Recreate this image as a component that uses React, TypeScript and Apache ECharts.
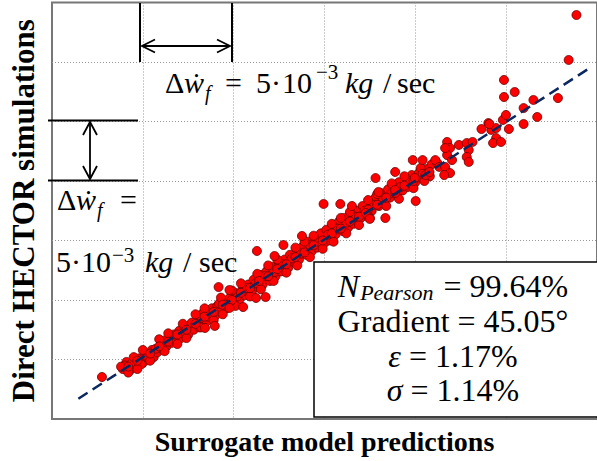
import React, { useEffect, useRef } from "react";
import * as echarts from "echarts";

// Axis ticks (units of 10^-3 kg/sec; one grid step = 5·10^-3 kg/sec)
const xTicks = [0, 5, 10, 15, 20, 25, 30];
const yTicks = [0, 5, 10, 15, 20, 25, 30, 35];

// Dense band of samples along the diagonal [surrogate, HECTOR]
const bandPoints: number[][] = [
  [3.9, 4.2], [4.1, 4.8], [4.3, 4.1], [4.6, 4.5], [4.8, 5.1], [5.0, 4.7], [5.1, 5.5], [5.3, 5.0],
  [5.5, 5.8], [5.6, 5.2], [5.8, 5.6], [6.0, 6.3], [6.1, 5.8], [6.3, 6.1], [6.5, 6.9], [6.6, 6.4],
  [6.8, 6.6], [7.0, 7.4], [7.1, 6.8], [7.3, 7.6], [7.5, 7.1], [7.6, 7.9], [7.8, 7.5], [8.0, 8.3],
  [8.1, 7.7], [8.3, 8.9], [8.5, 8.2], [8.6, 8.6], [8.8, 9.3], [9.0, 8.7], [9.1, 9.5], [9.3, 9.0],
  [9.5, 9.9], [9.6, 9.3], [9.8, 10.2], [10.0, 9.6], [10.1, 10.6], [10.3, 10.0], [10.5, 11.0], [10.6, 10.4],
  [10.8, 11.3], [11.0, 10.7], [11.1, 11.7], [11.3, 11.1], [11.5, 12.1], [11.6, 11.3], [11.8, 12.4], [12.0, 11.6],
  [12.1, 12.8], [12.3, 12.0], [12.5, 13.1], [12.6, 12.4], [12.8, 13.4], [13.0, 12.7], [13.1, 13.8], [13.3, 13.2],
  [13.5, 14.2], [13.6, 13.4], [13.8, 14.5], [14.0, 13.8], [14.1, 14.9], [14.3, 14.1], [14.5, 15.2], [14.6, 14.4],
  [14.8, 15.6], [15.0, 14.8], [15.1, 15.9], [15.3, 15.0], [15.5, 16.3], [15.6, 15.5], [15.8, 16.6], [16.0, 15.8],
  [16.1, 16.9], [16.3, 16.1], [16.5, 17.3], [16.6, 16.4], [16.8, 17.5], [17.0, 16.9], [17.1, 17.9], [17.3, 17.2],
  [17.5, 18.3], [17.6, 17.5], [17.8, 18.6], [18.0, 17.9], [18.1, 19.0], [18.3, 18.2], [18.5, 19.3], [18.6, 18.6],
  [18.8, 19.6], [19.0, 19.0], [19.1, 19.9], [19.3, 19.2], [19.5, 20.2], [19.6, 19.5], [19.8, 20.5], [20.0, 19.9],
  [20.2, 20.7], [20.4, 20.2], [20.6, 21.0], [20.8, 20.4],
  [4.0, 4.5], [4.4, 4.7], [4.9, 4.6], [5.2, 5.3], [5.7, 5.9], [6.2, 6.6], [6.7, 7.1], [7.2, 7.2],
  [7.7, 8.1], [8.2, 8.5], [8.7, 8.9], [9.2, 9.7], [9.7, 9.6], [10.2, 10.3], [10.7, 11.0], [11.2, 11.4],
  [11.7, 12.0], [12.2, 12.3], [12.7, 13.0], [13.2, 13.5], [13.7, 13.9], [14.2, 14.6], [14.7, 14.9], [15.2, 15.5],
  [15.7, 16.0], [16.2, 16.5], [16.7, 17.0], [17.2, 17.5], [17.7, 18.0], [18.2, 18.6], [18.7, 19.0], [19.2, 19.5],
  [19.7, 20.0],
  [3.8, 4.4], [4.2, 3.9], [4.5, 5.2], [4.7, 4.2], [5.0, 5.8], [5.4, 4.9], [5.9, 6.7], [6.2, 5.7],
  [6.4, 7.2], [6.9, 6.3], [7.2, 8.0], [7.4, 6.8], [7.9, 8.8], [8.2, 7.7], [8.4, 9.3], [8.9, 8.3],
  [9.3, 10.2], [9.4, 8.8], [9.9, 10.8], [10.1, 9.5], [10.4, 11.4], [10.9, 10.3], [11.3, 12.2], [11.5, 10.9],
  [11.9, 12.9], [12.2, 11.6], [12.4, 13.4], [12.9, 12.3], [13.4, 14.4], [13.5, 12.9], [13.9, 14.9], [14.2, 13.6],
  [14.4, 15.4], [14.9, 14.3], [15.4, 16.4], [15.5, 14.9], [15.9, 16.9], [16.2, 15.6], [16.4, 17.4], [16.9, 16.3],
  [17.4, 18.4], [17.5, 16.9], [17.9, 18.9], [18.4, 17.9], [18.7, 19.8], [19.1, 18.5], [19.4, 20.4], [19.9, 19.4],
  [20.3, 21.1], [20.5, 20.0], [20.9, 21.4],
  [4.2, 4.4], [4.7, 4.9], [5.4, 5.5], [5.9, 6.1], [6.4, 6.5], [6.9, 7.1], [7.4, 7.5], [7.9, 8.0],
  [8.4, 8.6], [8.9, 9.0], [9.4, 9.6], [9.9, 10.0], [10.4, 10.6], [10.9, 11.0], [11.4, 11.6], [11.9, 12.0],
  [12.4, 12.6], [12.9, 13.0], [13.4, 13.6], [13.9, 14.0], [14.4, 14.6], [14.9, 15.0], [15.4, 15.6], [15.9, 16.0],
  [16.4, 16.6], [16.9, 17.0], [17.4, 17.6], [17.9, 18.0], [18.4, 18.6], [18.9, 19.0], [19.4, 19.6], [19.9, 20.0],
  [20.4, 20.6],
];

// Clusters and scattered samples away from the dense band
const scatteredPoints: number[][] = [
  [2.75, 3.53], [8.42, 7.65], [8.96, 7.82], [9.17, 11.09], [9.77, 10.84], [9.77, 9.33], [10.52, 9.41],
  [11.23, 10.17], [11.76, 10.25], [11.28, 14.12], [12.25, 13.7], [12.74, 14.62], [13.76, 15.38],
  [14.95, 18.07], [15.87, 18.07], [16.51, 17.9], [17.27, 17.31], [17.49, 16.81], [18.35, 16.89],
  [17.81, 20.25], [17.97, 19.08], [18.89, 19.24], [18.89, 20.76], [19.97, 20.25], [20.56, 20.5],
  [19.86, 21.76], [20.4, 21.76], [20.02, 18.32], [21.21, 21.51],
  [21.1, 21.76], [21.32, 21.18], [20.78, 20.76], [21.64, 21.18], [21.91, 20.67], [21.59, 20.5],
  [21.75, 23.28], [21.91, 22.77], [22.4, 23.03], [22.83, 23.19], [23.15, 23.28], [22.94, 22.6],
  [22.83, 22.02], [22.94, 21.6], [21.75, 22.18], [21.64, 22.77], [22.02, 21.76],
  [23.64, 24.37], [24.02, 24.87], [24.18, 24.29], [24.45, 23.61], [24.28, 23.19], [24.72, 23.28], [24.45, 24.45],
  [24.07, 24.79], [25.15, 24.37], [24.82, 25.13], [24.99, 25.55], [25.96, 24.79], [26.71, 25.38],
  [25.96, 26.13], [26.5, 26.81], [27.85, 26.97], [24.88, 27.06], [25.47, 27.48], [24.88, 28.49],
  [28.44, 30.17], [28.87, 33.95],
];

// Regression line end points
const fitLine: number[][] = [[1.45, 1.7], [29.5, 29.4]];

const xAxisTitle = "Surrogate model predictions";
const yAxisTitle = "Direct HECTOR simulations";
const statGradient = "Gradient = 45.05°";

const SERIF = "Liberation Serif";

type Piece = [string, number, number, number, boolean];
// [text, x, baseline, fontSize, italic]
const topLabel: Piece[] = [
  ["Δ", 165, 93, 30, false],
  ["ẇ", 184, 93, 30, true],
  ["f", 205, 100, 20, true],
  ["=", 225, 93, 30, false],
  ["5", 256, 93, 30, false],
  ["·", 271, 93, 30, false],
  ["10", 282, 93, 30, false],
  ["−3", 316, 79, 21, false],
  ["kg", 345, 93, 30, true],
  ["/", 383, 93, 30, false],
  ["sec", 397, 93, 30, false],
];
const leftLabel: Piece[] = [
  ["Δ", 57, 210, 30, false],
  ["ẇ", 76, 210, 30, true],
  ["f", 97, 217, 20, true],
  ["=", 120, 210, 30, false],
  ["5", 56, 272, 30, false],
  ["·", 71, 272, 30, false],
  ["10", 81, 272, 30, false],
  ["−3", 112, 262, 21, false],
  ["kg", 145, 272, 30, true],
  ["/", 183, 272, 30, false],
  ["sec", 199, 272, 30, false],
];

function pieceToGraphic(p: Piece) {
  const [text, x, base, size, italic] = p;
  return {
    type: "text",
    z: 50,
    x,
    y: base - 0.3375 * size,
    style: {
      text,
      fill: "#000",
      font: (italic ? "italic " : "") + size + "px " + SERIF,
      fontSize: size,
      fontFamily: SERIF,
      fontStyle: italic ? "italic" : "normal",
      align: "left",
      verticalAlign: "middle",
    },
  };
}

export default function App() {
  const ref = useRef<HTMLDivElement>(null);
  useEffect(() => {
    document.body.style.margin = "0";
    const chart = echarts.init(ref.current!, null, { renderer: "svg" });
    const boxRich = {
      m: { fontSize: 32, fontFamily: SERIF, lineHeight: 34, color: "#000" },
      i: { fontSize: 32, fontFamily: SERIF, fontStyle: "italic", lineHeight: 34, color: "#000" },
      s: { fontSize: 22, fontFamily: SERIF, fontStyle: "italic", lineHeight: 16, verticalAlign: "bottom", color: "#000", padding: [0, 2, 0, 1] },
    };
    const boxLine = (text: string, baseline: number) => ({
      type: "text",
      z: 60,
      x: 453,
      y: baseline - 28,
      style: { text, rich: boxRich, align: "center", verticalAlign: "top", fill: "#000" },
    });
    const lineEl = (x1: number, y1: number, x2: number, y2: number, w = 2) => ({
      type: "line",
      z: 50,
      shape: { x1, y1, x2, y2 },
      style: { stroke: "#000", lineWidth: w },
    });
    const head = (pts: number[][]) => ({
      type: "polyline",
      z: 50,
      shape: { points: pts },
      style: { stroke: "#000", lineWidth: 1.8, fill: "none" },
    });
    chart.setOption({
      animation: false,
      backgroundColor: "#fff",
      grid: {
        left: 47,
        top: 2.5,
        width: 556,
        height: 416.5,
        show: true,
        borderColor: "#777",
        borderWidth: 2,
        backgroundColor: "transparent",
      },
      xAxis: {
        type: "value",
        min: xTicks[0],
        max: xTicks[xTicks.length - 1],
        interval: 5,
        name: xAxisTitle,
        nameLocation: "middle",
        nameGap: 8,
        nameTextStyle: { fontFamily: SERIF, fontWeight: "bold", fontSize: 28, color: "#000", verticalAlign: "top" },
        axisLine: { show: false },
        axisTick: { show: false },
        axisLabel: { show: false },
        splitLine: { show: true, showMinLine: false, showMaxLine: false, lineStyle: { color: "#999", width: 1, type: [1, 2] } },
      },
      yAxis: {
        type: "value",
        min: yTicks[0],
        max: yTicks[yTicks.length - 1],
        interval: 5,
        name: yAxisTitle,
        nameLocation: "middle",
        nameGap: 13,
        nameTextStyle: { fontFamily: SERIF, fontWeight: "bold", fontSize: 31, color: "#000" },
        axisLine: { show: false },
        axisTick: { show: false },
        axisLabel: { show: false },
        splitLine: { show: true, showMinLine: false, showMaxLine: false, lineStyle: { color: "#999", width: 1, type: [1, 2] } },
      },
      series: [
        {
          type: "scatter",
          name: "samples",
          data: bandPoints.concat(scatteredPoints),
          symbol: "circle",
          symbolSize: 9,
          itemStyle: { color: "#ff0000", borderColor: "#6a0000", borderWidth: 0.8, opacity: 1 },
          z: 2,
        },
        {
          type: "line",
          name: "fit",
          data: fitLine,
          symbol: "none",
          lineStyle: { color: "#0a2860", width: 2.5, type: [11, 6] },
          z: 3,
        },
      ],
      graphic: [
        // top Δ annotation
        lineEl(140, 3, 140, 62),
        lineEl(232, 3, 232, 62),
        lineEl(142, 46, 230, 46, 1.8),
        head([[155, 39.5], [142, 46], [155, 52.5]]),
        head([[217, 39.5], [230, 46], [217, 52.5]]),
        // left Δ annotation
        lineEl(48, 120.5, 138, 120.5),
        lineEl(48, 180.5, 138, 180.5),
        lineEl(90, 122, 90, 179, 1.8),
        head([[83, 135], [90, 122], [97, 135]]),
        head([[83, 166], [90, 179], [97, 166]]),
        ...topLabel.map(pieceToGraphic),
        ...leftLabel.map(pieceToGraphic),
        // statistics box
        {
          type: "rect",
          z: 55,
          shape: { x: 314, y: 262, width: 300, height: 155 },
          style: { fill: "#fff", stroke: "#000", lineWidth: 1.5 },
        },
        boxLine("{i|N}{s|Pearson}{m| = 99.64%}", 297),
        boxLine("{m|" + statGradient + "}", 332),
        boxLine("{i|ε}{m| = 1.17%}", 367),
        boxLine("{i|σ}{m| = 1.14%}", 401),
      ],
    });
    return () => chart.dispose();
  }, []);
  return <div ref={ref} style={{ width: 597, height: 461 }} />;
}
